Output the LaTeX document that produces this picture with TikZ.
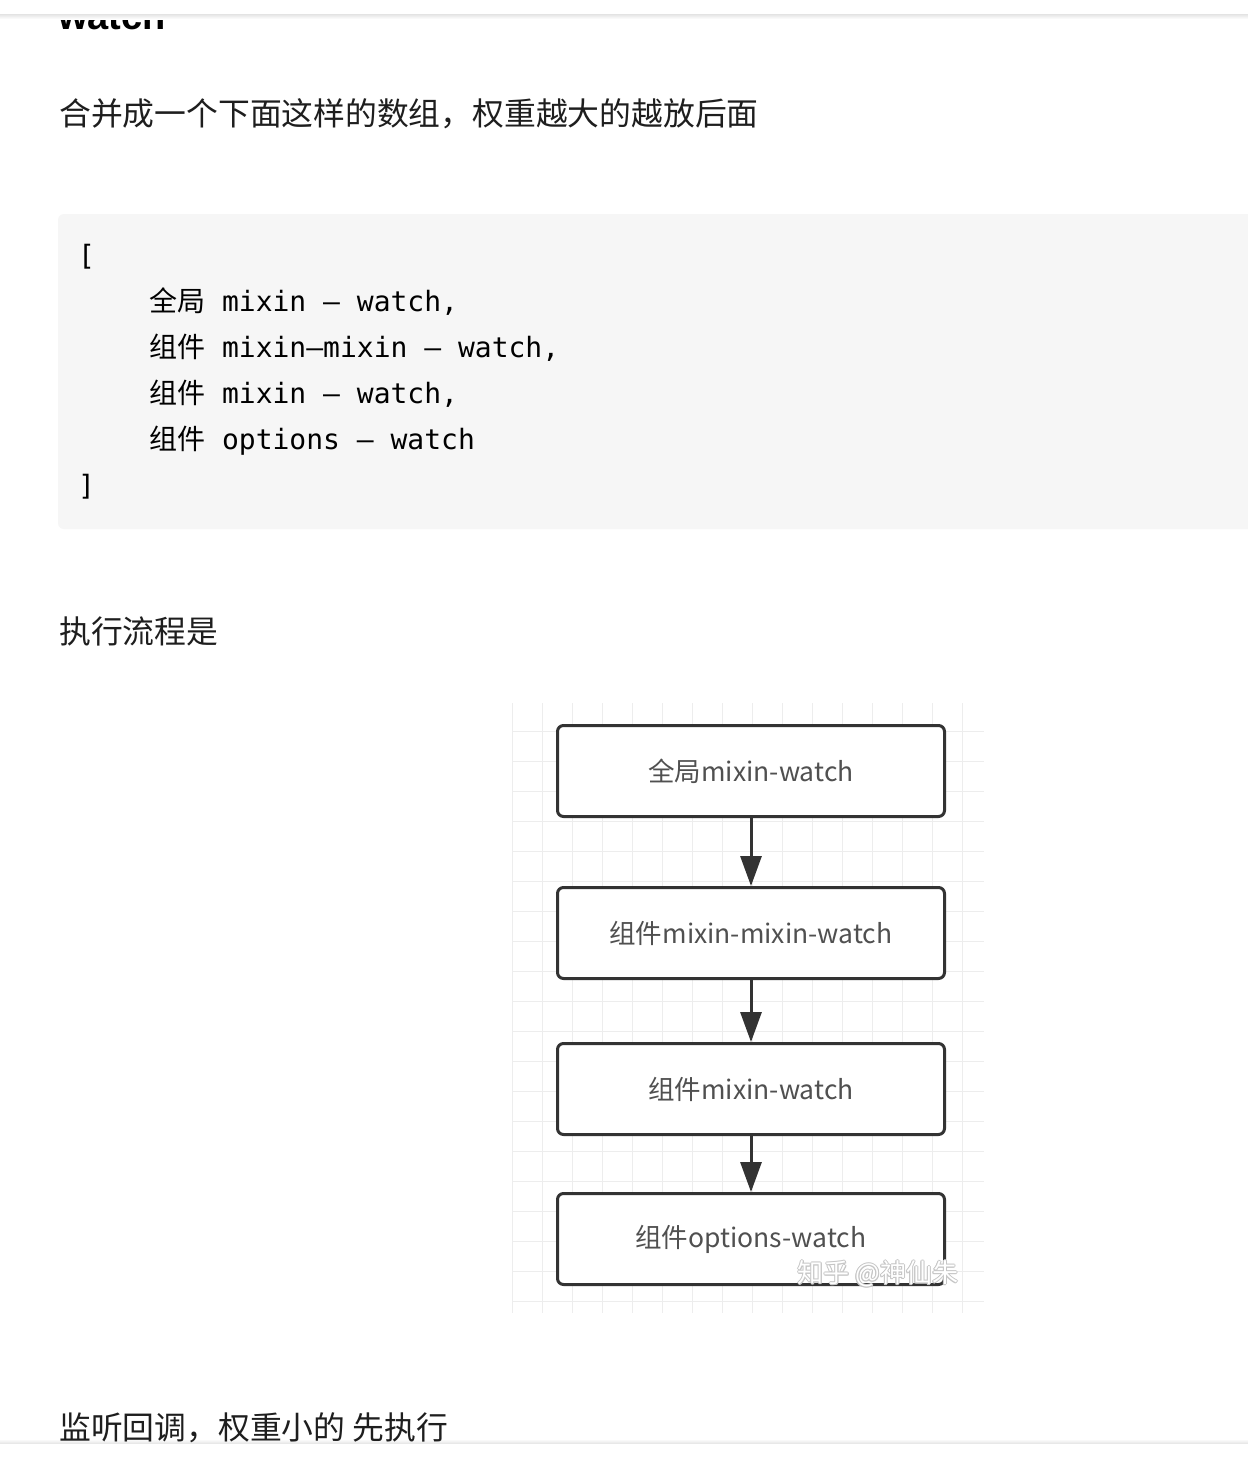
\documentclass[tikz,border=0pt]{standalone}
\usepackage{fontspec}
\setmainfont{Noto Sans CJK SC}
\newfontfamily\cjk{Noto Sans CJK SC}
\newfontfamily\codefont{DejaVu Sans Mono}
\newfontfamily\headfont{Liberation Sans}
\usetikzlibrary{arrows.meta}
\definecolor{codebg}{HTML}{F6F6F6}
\definecolor{txt}{HTML}{1E1E1E}
\definecolor{boxline}{HTML}{333333}
\definecolor{boxtxt}{HTML}{505050}
\definecolor{gridc}{HTML}{EDEDED}
\begin{document}
\begin{tikzpicture}[x=1pt,y=-1pt,
  para/.style={anchor=base west, inner sep=0pt, text=txt, font=\cjk\fontsize{31.8}{32}\selectfont},
  codeline/.style={anchor=base west, inner sep=0pt, text=black, font=\fontsize{28}{28}\selectfont},
  flowbox/.style={draw=boxline, line width=3pt, rounded corners=6pt, fill=white,
    minimum width=387pt, minimum height=91pt, inner sep=0pt, text=boxtxt,
    font=\cjk\fontsize{26.5}{26.5}\selectfont},
  flowarrow/.style={draw=boxline, line width=3pt, -{Triangle[length=30pt,width=21pt]}},
  wmark/.style={inner sep=0pt, font=\cjk\fontsize{26}{26}\selectfont},
]
\useasboundingbox (0,0) rectangle (1248,1460);
\fill[white] (0,0) rectangle (1248,1460);

% clipped heading
\node[anchor=base west, inner sep=0pt, text=black, font=\headfont\bfseries\fontsize{38}{38}\selectfont] (h0) at (58,29) {watch};
\fill[white] (0,0) rectangle (1248,14);
\shade[top color=gray!22, bottom color=white] (0,14) rectangle (1248,19);

% paragraph 1
\node[para] (p1) at (59,125) {合并成一个下面这样的数组，权重越大的越放后面};

% code block
\begin{scope}
  \clip (0,0) rectangle (1248,1460);
  \fill[codebg, rounded corners=6pt] (58,214) rectangle (1270,529);
\end{scope}
\node[codeline, font=\codefont\fontsize{28}{28}\selectfont] (c0) at (78,265.5) {[};
\node[codeline] (c1) at (149,311.5) {{\cjk 全局}{\codefont\space mixin – watch,}};
\node[codeline] (c2) at (149,357.5) {{\cjk 组件}{\codefont\space mixin–mixin – watch,}};
\node[codeline] (c3) at (149,403.5) {{\cjk 组件}{\codefont\space mixin – watch,}};
\node[codeline] (c4) at (149,449.5) {{\cjk 组件}{\codefont\space options – watch}};
\node[codeline, font=\codefont\fontsize{28}{28}\selectfont] (c5) at (78,495.5) {]};

% paragraph 2
\node[para] (p2) at (59,643) {执行流程是};

% grid background
\begin{scope}
  \clip (512,703) rectangle (984,1313);
  \foreach \x in {512,542,...,982} \draw[gridc, line width=1pt] (\x,703) -- (\x,1313);
  \foreach \y in {731,761,...,1301} \draw[gridc, line width=1pt] (512,\y) -- (984,\y);
\end{scope}

% flow boxes
\node[flowbox] (b1) at (751,771) {全局mixin-watch};
\node[flowbox] (b2) at (751,933) {组件mixin-mixin-watch};
\node[flowbox] (b3) at (751,1089) {组件mixin-watch};
\node[flowbox] (b4) at (751,1239) {组件options-watch};

\draw[flowarrow] (b1) -- (b2);
\draw[flowarrow] (b2) -- (b3);
\draw[flowarrow] (b3) -- (b4);

% watermark
\foreach \dx/\dy in {-1/0,1/0,0/-1,0/1,-0.7/-0.7,0.7/0.7,-0.7/0.7,0.7/-0.7}
  \node[wmark, text=gray!45] at (878+\dx,1274+\dy) {知乎 @神仙朱};
\node[wmark, text=white] (wm) at (878,1274) {知乎 @神仙朱};

% bottom bar
\shade[top color=white, bottom color=gray!20] (0,1439) rectangle (1248,1443.5);

% paragraph 3
\node[para] (p3) at (59,1439.5) {监听回调，权重小的 先执行};

\fill[white] (0,1443.5) rectangle (1248,1460);
\end{tikzpicture}
\end{document}
